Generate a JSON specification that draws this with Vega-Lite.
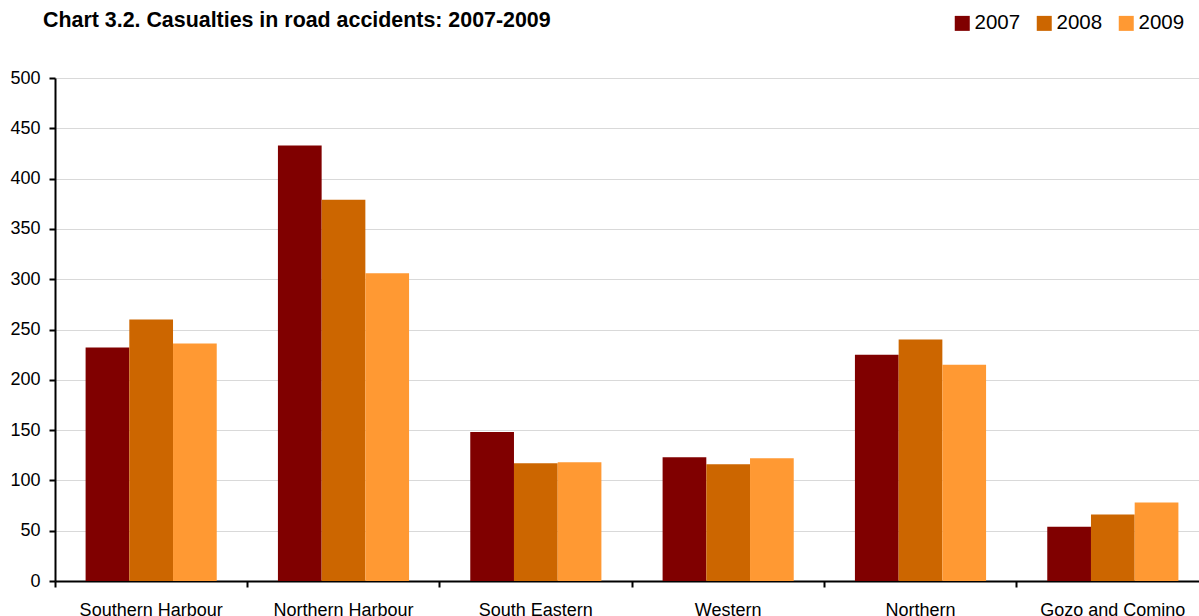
{
  "$schema": "https://vega.github.io/schema/vega-lite/v6.json",
  "width": 1144,
  "height": 503,
  "autosize": {"type": "none"},
  "padding": {"left": 55, "top": 78, "right": 0, "bottom": 35},
  "background": "white",
  "title": {
    "text": "Chart 3.2. Casualties in road accidents: 2007-2009",
    "anchor": "start",
    "frame": "group",
    "font": "Liberation Sans",
    "fontSize": 21.4,
    "fontWeight": "bold",
    "color": "#000000",
    "dx": -12,
    "dy": 57,
    "baseline": "alphabetic",
    "offset": 22
  },
  "data": {
    "values": [
      {"region": "Southern Harbour", "year": "2007", "casualties": 232},
      {"region": "Southern Harbour", "year": "2008", "casualties": 260},
      {"region": "Southern Harbour", "year": "2009", "casualties": 236},
      {"region": "Northern Harbour", "year": "2007", "casualties": 433},
      {"region": "Northern Harbour", "year": "2008", "casualties": 379},
      {"region": "Northern Harbour", "year": "2009", "casualties": 306},
      {"region": "South Eastern", "year": "2007", "casualties": 148},
      {"region": "South Eastern", "year": "2008", "casualties": 117},
      {"region": "South Eastern", "year": "2009", "casualties": 118},
      {"region": "Western", "year": "2007", "casualties": 123},
      {"region": "Western", "year": "2008", "casualties": 116},
      {"region": "Western", "year": "2009", "casualties": 122},
      {"region": "Northern", "year": "2007", "casualties": 225},
      {"region": "Northern", "year": "2008", "casualties": 240},
      {"region": "Northern", "year": "2009", "casualties": 215},
      {"region": "Gozo and Comino", "year": "2007", "casualties": 54},
      {"region": "Gozo and Comino", "year": "2008", "casualties": 66},
      {"region": "Gozo and Comino", "year": "2009", "casualties": 78}
    ]
  },
  "mark": {"type": "bar"},
  "encoding": {
    "x": {
      "field": "region",
      "type": "nominal",
      "sort": null,
      "scale": {"paddingInner": 0, "paddingOuter": 0, "range": [0, 1154]},
      "axis": {
        "title": null,
        "labelAngle": 0,
        "bandPosition": 0,
        "labelBandPosition": 0.5,
        "labelFont": "Liberation Sans",
        "labelFontSize": 18,
        "labelColor": "#000000",
        "labelPadding": 14,
        "tickColor": "#000000",
        "tickSize": 6,
        "tickWidth": 2,
        "domainColor": "#000000",
        "domainWidth": 2,
        "grid": false
      }
    },
    "xOffset": {
      "field": "year",
      "type": "nominal",
      "scale": {"paddingInner": 0, "paddingOuter": 0.7}
    },
    "y": {
      "field": "casualties",
      "type": "quantitative",
      "scale": {"domain": [0, 500], "nice": false},
      "axis": {
        "title": null,
        "values": [0, 50, 100, 150, 200, 250, 300, 350, 400, 450, 500],
        "labelFont": "Liberation Sans",
        "labelFontSize": 18,
        "labelColor": "#000000",
        "labelPadding": 9,
        "tickColor": "#000000",
        "tickSize": 6,
        "tickWidth": 2,
        "domainColor": "#000000",
        "domainWidth": 2,
        "gridColor": "#D9D9D9",
        "gridWidth": 1
      }
    },
    "color": {
      "field": "year",
      "type": "nominal",
      "scale": {"domain": ["2007", "2008", "2009"], "range": ["#800000", "#CC6600", "#FF9933"]},
      "legend": {
        "title": null,
        "orient": "none",
        "direction": "horizontal",
        "legendX": 897,
        "legendY": -65,
        "symbolType": "square",
        "symbolSize": 225,
        "symbolStrokeWidth": 0,
        "symbolOpacity": 1,
        "labelFont": "Liberation Sans",
        "labelFontSize": 20.5,
        "labelColor": "#000000",
        "labelOffset": 2,
        "columnPadding": 13
      }
    }
  },
  "config": {
    "view": {"stroke": null},
    "axis": {"gridCap": "butt"}
  }
}
